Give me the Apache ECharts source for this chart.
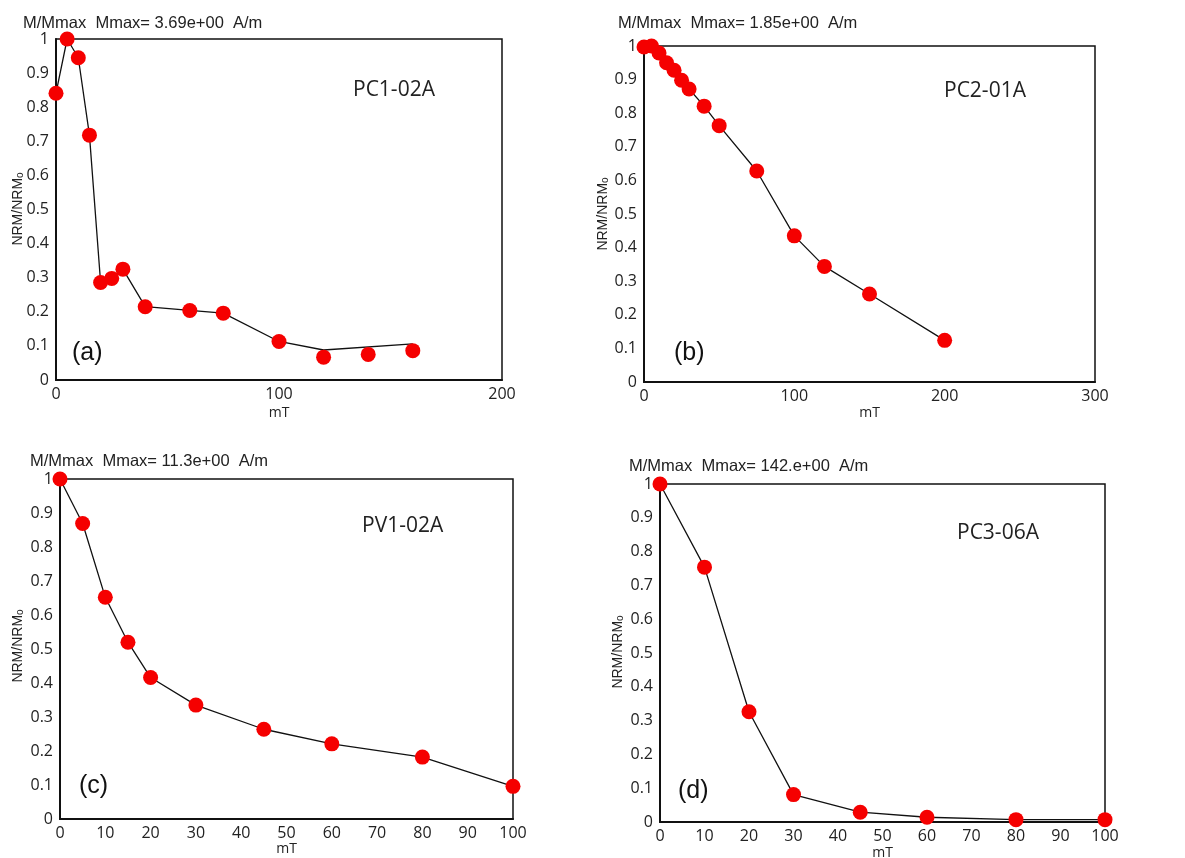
<!DOCTYPE html>
<html>
<head>
<meta charset="utf-8">
<style>
  html, body { margin: 0; padding: 0; background: #fff; }
  #chart { width: 1185px; height: 858px; }
</style>
<script src="https://cdn.jsdelivr.net/npm/echarts@6/dist/echarts.min.js"></script>
</head>
<body>
<div id="chart"></div>
<script>
// AF demagnetisation curves: normalised NRM vs. peak field (mT)

// (a) PC1-02A
const fieldA = [0, 5, 10, 15, 20, 25, 30, 40, 60, 75, 100, 120, 140, 160];
const nrmA   = [0.841, 1.0, 0.945, 0.718, 0.286, 0.298, 0.325, 0.215, 0.204, 0.196, 0.113, 0.067, 0.075, 0.086];
// connecting polyline of (a) (its tail runs above the last three steps)
const lineFieldA = [0, 5, 10, 15, 20, 25, 30, 40, 60, 75, 100, 120, 160];
const lineNrmA   = [0.841, 1.0, 0.945, 0.718, 0.286, 0.298, 0.325, 0.215, 0.204, 0.196, 0.113, 0.088, 0.106];

// (b) PC2-01A
const fieldB = [0, 5, 10, 15, 20, 25, 30, 40, 50, 75, 100, 120, 150, 200];
const nrmB   = [0.997, 1.0, 0.979, 0.95, 0.928, 0.898, 0.872, 0.821, 0.763, 0.628, 0.435, 0.344, 0.262, 0.124];

// (c) PV1-02A
const fieldC = [0, 5, 10, 15, 20, 30, 45, 60, 80, 100];
const nrmC   = [1.0, 0.869, 0.652, 0.52, 0.416, 0.335, 0.264, 0.221, 0.182, 0.096];

// (d) PC3-06A
const fieldD = [0, 10, 20, 30, 45, 60, 80, 100];
const nrmD   = [1.0, 0.754, 0.326, 0.081, 0.029, 0.014, 0.007, 0.007];

// axis extents
const xMaxs = [200, 300, 100, 100];
const xSteps = [100, 100, 10, 10];
const yTicks = [0, 0.1, 0.2, 0.3, 0.4, 0.5, 0.6, 0.7, 0.8, 0.9, 1];

// text
const headers = [
  'M/Mmax  Mmax= 3.69e+00  A/m',
  'M/Mmax  Mmax= 1.85e+00  A/m',
  'M/Mmax  Mmax= 11.3e+00  A/m',
  'M/Mmax  Mmax= 142.e+00  A/m'
];
const samples = ['PC1-02A', 'PC2-01A', 'PV1-02A', 'PC3-06A'];
const letters = ['(a)', '(b)', '(c)', '(d)'];

const zip = (xs, ys) => xs.map((x, i) => [x, ys[i]]);

// plot boxes in page pixels
const boxes = [
  { left: 56,  top: 39,  width: 446, height: 341 },
  { left: 644, top: 46,  width: 451, height: 336 },
  { left: 60,  top: 479, width: 453, height: 340 },
  { left: 660, top: 484, width: 445, height: 338 }
];
// distance from the x axis to its "mT" title
const nameGaps = [26, 24, 21, 24];

const tickFont = 'Open Sans';
const textFont = 'Liberation Sans, Arial, sans-serif';
const RED = '#f50000';

const grids = boxes.map(b => ({
  left: b.left, top: b.top, width: b.width, height: b.height,
  outerBoundsMode: 'none', containLabel: false,
  show: true, borderColor: '#111', borderWidth: 1.5, backgroundColor: 'transparent'
}));

const xAxes = boxes.map((b, i) => ({
  type: 'value', gridIndex: i, min: 0, max: xMaxs[i], interval: xSteps[i],
  axisLine: { show: true, onZero: false, lineStyle: { color: '#111', width: 2 } },
  axisTick: { show: false },
  splitLine: { show: false },
  axisLabel: { color: '#222', fontFamily: tickFont, fontSize: 16, margin: 6 },
  name: 'mT', nameLocation: 'middle', nameGap: nameGaps[i],
  nameTextStyle: { color: '#222', fontFamily: tickFont, fontSize: 14, verticalAlign: 'top' }
}));

const yAxes = boxes.map((b, i) => ({
  type: 'value', gridIndex: i, min: 0, max: 1, interval: 0.1,
  axisLine: { show: true, onZero: false, lineStyle: { color: '#111', width: 2 } },
  axisTick: { show: false },
  splitLine: { show: false },
  axisLabel: {
    color: '#222', fontFamily: tickFont, fontSize: 16, margin: 7,
    formatter: v => {
      const t = yTicks.find(k => Math.abs(k - v) < 1e-6);
      return t === 0 ? '0' : t === 1 ? '1' : t.toFixed(1);
    }
  }
}));

const curveLine = { color: '#111', width: 1.3 };
const dotStyle = { color: RED, opacity: 1 };

const series = [
  {
    type: 'line', xAxisIndex: 0, yAxisIndex: 0, data: zip(lineFieldA, lineNrmA),
    showSymbol: false, lineStyle: curveLine, itemStyle: { color: '#111' }, z: 2, silent: true
  },
  {
    type: 'scatter', xAxisIndex: 0, yAxisIndex: 0, data: zip(fieldA, nrmA),
    symbol: 'circle', symbolSize: 15, itemStyle: dotStyle, clip: false, z: 3
  }
];
[[fieldB, nrmB], [fieldC, nrmC], [fieldD, nrmD]].forEach(([xs, ys], k) => {
  series.push({
    type: 'line', xAxisIndex: k + 1, yAxisIndex: k + 1, data: zip(xs, ys),
    symbol: 'circle', symbolSize: 15, showSymbol: true,
    lineStyle: curveLine, itemStyle: dotStyle, clip: false, z: 3
  });
});

// header, sample name, panel letter and y-axis title placement per panel
const headerPos = [[23, 25], [618, 25], [30, 463], [629, 468]];
const samplePos = [[353, 94], [944, 95], [362, 530], [957, 537]];
const letterPos = [[72, 356], [674, 356], [79, 789], [678, 794]];
const yNamePos  = [[18, 209], [603, 214], [18, 646], [618, 652]];

const graphics = [];
for (let i = 0; i < 4; i++) {
  graphics.push({
    type: 'text', left: headerPos[i][0], top: headerPos[i][1] - 10,
    style: { text: headers[i], font: '16.5px ' + textFont, fill: '#222' }, z: 10
  });
  graphics.push({
    type: 'text', left: samplePos[i][0], top: samplePos[i][1] - 14,
    style: { text: samples[i], font: '21px ' + tickFont, fill: '#222' }, z: 10
  });
  graphics.push({
    type: 'text', left: letterPos[i][0], top: letterPos[i][1] - 15,
    style: { text: letters[i], font: '25px ' + textFont, fill: '#111' }, z: 10
  });
  graphics.push({
    type: 'text', x: yNamePos[i][0], y: yNamePos[i][1], rotation: Math.PI / 2,
    style: {
      text: '{m|NRM/NRM}{s|o}', align: 'center', verticalAlign: 'middle',
      rich: {
        m: { font: '14px ' + textFont, fill: '#222' },
        s: { font: '10px ' + textFont, fill: '#222', verticalAlign: 'bottom', padding: [4, 0, 0, 0] }
      }
    }, z: 10
  });
}

const chart = echarts.init(document.getElementById('chart'), null, { renderer: 'canvas' });
chart.setOption({
  backgroundColor: '#fff',
  animation: false,
  grid: grids,
  xAxis: xAxes,
  yAxis: yAxes,
  series: series,
  graphic: graphics
});
</script>
</body>
</html>
